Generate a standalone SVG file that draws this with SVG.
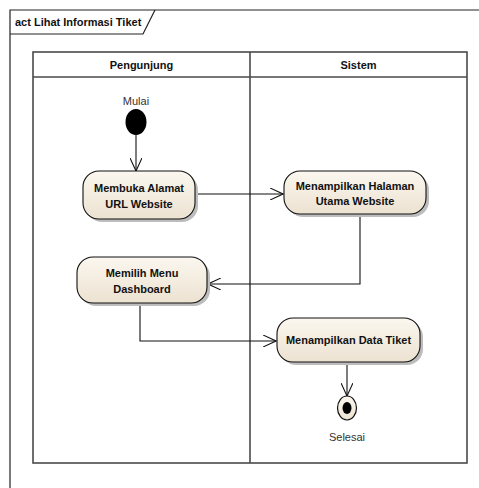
<svg xmlns="http://www.w3.org/2000/svg" width="479" height="488" viewBox="0 0 479 488">
<style>
.frame{fill:none;stroke:#222;stroke-width:1.2}
.lane{fill:none;stroke:#4a4a4a;stroke-width:1.6}
.act{fill:url(#g);stroke:#111;stroke-width:1.1}
.shadow{fill:#bdbdbd}
.t{font-family:"Liberation Sans",Arial,sans-serif;font-size:11px;font-weight:bold;fill:#111;text-anchor:middle}
.lbl{font-family:"Liberation Sans",Arial,sans-serif;font-size:11px;fill:#333;text-anchor:middle}
.conn{fill:none;stroke:#111;stroke-width:1.1;marker-end:url(#arr)}
</style>
<defs>
<linearGradient id="g" x1="0" y1="0" x2="0" y2="1">
<stop offset="0" stop-color="#FBF7EF"/>
<stop offset="1" stop-color="#ECE2D1"/>
</linearGradient>
<marker id="arr" viewBox="0 0 14 12" refX="13" refY="6" markerWidth="14" markerHeight="12" markerUnits="userSpaceOnUse" orient="auto">
<path d="M0,0 L13,6 L0,12" fill="none" stroke="#111" stroke-width="1.1"/>
</marker>
</defs>
<rect width="479" height="488" fill="#fff"/>
<g id="frame">
<path class="frame" d="M10,488 V10 H479"/>
<path class="frame" d="M10,34 H143 L155,10"/>
<text x="15" y="26" font-family="'Liberation Sans',Arial,sans-serif" font-size="11" font-weight="bold" fill="#111">act Lihat Informasi Tiket</text>
</g>
<g id="lanes">
<rect class="lane" x="33" y="52" width="434" height="411"/>
<line class="lane" x1="33" y1="77" x2="467" y2="77"/>
<line class="lane" x1="250" y1="52" x2="250" y2="463"/>
<text class="t" x="141.5" y="69">Pengunjung</text>
<text class="t" x="358.5" y="69">Sistem</text>
</g>
<g id="connectors">
<path class="conn" d="M136,135 V171"/>
<path class="conn" d="M195,194 H283"/>
<path class="conn" d="M360,214 V284 H208"/>
<path class="conn" d="M140,303 V341 H276"/>
<path class="conn" d="M347,362 V396"/>
</g>
<g id="start">
<ellipse cx="136" cy="122" rx="10.5" ry="13" fill="#000"/>
<text class="lbl" x="136" y="105">Mulai</text>
</g>
<g id="n1">
<rect class="shadow" x="86" y="174" width="112" height="48" rx="16"/>
<rect class="act" x="83" y="171" width="112" height="48" rx="16"/>
<text class="t" x="139" y="192">Membuka Alamat</text>
<text class="t" x="139" y="208">URL Website</text>
</g>
<g id="n2">
<rect class="shadow" x="287" y="174" width="142" height="43" rx="16"/>
<rect class="act" x="284" y="171" width="142" height="43" rx="16"/>
<text class="t" x="355" y="190">Menampilkan Halaman</text>
<text class="t" x="355" y="205">Utama Website</text>
</g>
<g id="n3">
<rect class="shadow" x="80" y="260" width="130" height="46" rx="16"/>
<rect class="act" x="77" y="257" width="130" height="46" rx="16"/>
<text class="t" x="142" y="277">Memilih Menu</text>
<text class="t" x="142" y="293">Dashboard</text>
</g>
<g id="n4">
<rect class="shadow" x="280" y="321" width="143" height="44" rx="16"/>
<rect class="act" x="277" y="318" width="143" height="44" rx="16"/>
<text class="t" x="348.5" y="344">Menampilkan Data Tiket</text>
</g>
<g id="end">
<ellipse cx="347" cy="408" rx="9.5" ry="12" fill="url(#g)" stroke="#111" stroke-width="1.2"/>
<ellipse cx="347" cy="408" rx="4.5" ry="6" fill="#000"/>
<text class="lbl" x="347" y="441">Selesai</text>
</g>
</svg>
